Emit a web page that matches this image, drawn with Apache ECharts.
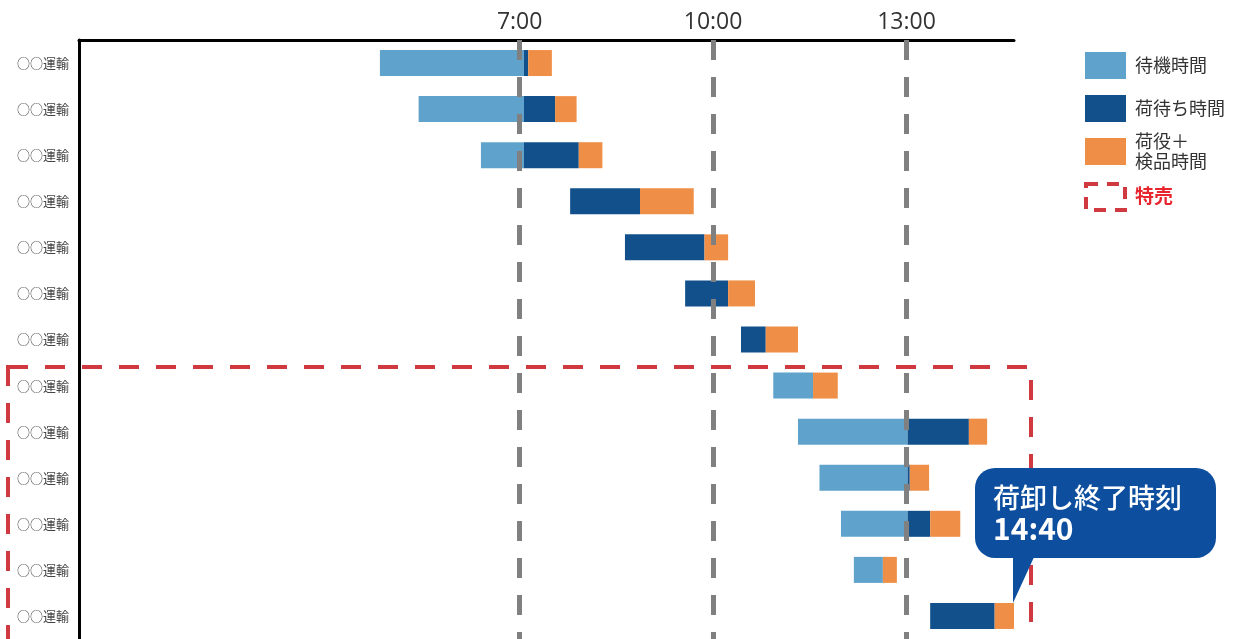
<!DOCTYPE html>
<html><head><meta charset="utf-8">
<script src="https://cdn.jsdelivr.net/npm/echarts@6/dist/echarts.min.js"></script>
<style>html,body{margin:0;padding:0;background:#fff}#c{width:1253px;height:639px}</style>
</head><body><div id="c"></div>
<script>
// ---- data (minutes from 0:00) ----
const categories = ['○○運輸','○○運輸','○○運輸','○○運輸','○○運輸','○○運輸','○○運輸','○○運輸','○○運輸','○○運輸','○○運輸','○○運輸','○○運輸'];
const startMin   = [290, 326, 384, 467, 518, 574, 626, 656, 679, 699, 719, 731, 802];
const waitMin    = [134,  98,  40,   0,   0,   0,   0,  37, 102,  82,  62,  27,   0];
const holdMin    = [  4,  29,  51,  65,  74,  40,  23,   0,  57,   2,  21,   0,  60];
const workMin    = [ 22,  20,  22,  50,  22,  25,  30,  23,  17,  18,  28,  13,  18];
const tickTimes  = [420, 600, 780];
const seriesNames = ['待機時間','荷待ち時間','荷役＋\n検品時間'];
const colors = ['#5fa2cc','#11508b','#ef8f47'];
const calloutTitle = '荷卸し終了時刻';

const fmt = v => Math.floor(v/60) + ':' + String(v%60).padStart(2,'0');
const endTimes = startMin.map((s,i)=>s+waitMin[i]+holdMin[i]+workMin[i]);
const lastIdx = categories.length-1;

const FONT = '"Noto Sans CJK JP","Noto Sans",sans-serif';
const chart = echarts.init(document.getElementById('c'));
const barW = 26;
chart.setOption({
  animation:false,
  grid:{left:79,right:239,top:40,bottom:0},
  xAxis:{type:'value',position:'top',min:10,max:880,
    axisLine:{show:true,lineStyle:{color:'#000',width:3}},
    axisTick:{show:false},splitLine:{show:false},
    axisLabel:{customValues:tickTimes,formatter:v=>fmt(v),fontSize:23,color:'#333',margin:6,fontFamily:'"Open Sans","Noto Sans",sans-serif'}},
  yAxis:{type:'category',inverse:true,data:categories,
    axisLine:{show:true,lineStyle:{color:'#000',width:3}},
    axisTick:{show:false},
    axisLabel:{fontSize:13,color:'#444',margin:10,fontFamily:FONT}},
  series:[
    {type:'bar',stack:'t',data:startMin,barWidth:barW,itemStyle:{color:'transparent'},silent:true},
    {type:'bar',stack:'t',name:seriesNames[0],data:waitMin,barWidth:barW,itemStyle:{color:colors[0]}},
    {type:'bar',stack:'t',name:seriesNames[1],data:holdMin,barWidth:barW,itemStyle:{color:colors[1]}},
    {type:'bar',stack:'t',name:seriesNames[2],data:workMin,barWidth:barW,itemStyle:{color:colors[2]},
      markLine:{silent:true,symbol:'none',z:10,label:{show:false},
        lineStyle:{color:'#808080',width:5,type:[20,17]},
        data:tickTimes.map(t=>({xAxis:t}))}}
  ]
});

// callout anchored at last bar end
const tip = chart.convertToPixel({xAxisIndex:0,yAxisIndex:0},[endTimes[lastIdx], lastIdx]);
const tipX = tip[0]-1, tipY = tip[1]-barW/2;
const bx = tipX-38, by = tipY-135, bw = 241, bh = 90;

const legendItems = seriesNames.map((n,i)=>[
  {type:'rect',shape:{x:1085,y:[52,95,138][i],width:41,height:27},style:{fill:colors[i]}},
  {type:'text',style:{x:1135,y:[65.5,108.5,151.5][i],text:n,fill:'#333',font:'18px '+FONT,textVerticalAlign:'middle',lineHeight:20}}
]).flat();

chart.setOption({graphic:[
  // 特売 region
  {type:'rect',z:20,shape:{x:8,y:367,width:1023,height:300},style:{fill:'none',stroke:'#d0393f',lineWidth:4,lineDash:[20,17]}},
  ...legendItems,
  {type:'rect',shape:{x:1086,y:184,width:39,height:26},style:{fill:'none',stroke:'#d0393f',lineWidth:4,lineDash:[12,9]}},
  {type:'text',style:{x:1135,y:196,text:'特売',fill:'#e8252e',font:'bold 19px '+FONT,textVerticalAlign:'middle'}},
  // callout
  {type:'rect',z:30,shape:{x:bx,y:by,width:bw,height:bh,r:20},style:{fill:'#0d4f9e'}},
  {type:'polygon',z:30,shape:{points:[[tipX,by+bh-3],[tipX+22,by+bh-3],[tipX,tipY]]},style:{fill:'#0d4f9e'}},
  {type:'text',z:31,style:{x:bx+18,y:by+30,text:calloutTitle,fill:'#fff',font:'500 27px '+FONT,textVerticalAlign:'middle'}},
  {type:'text',z:31,style:{x:bx+18,y:by+61,text:fmt(endTimes[lastIdx]),fill:'#fff',font:'bold 30px '+FONT,textVerticalAlign:'middle'}}
]});
</script></body></html>
